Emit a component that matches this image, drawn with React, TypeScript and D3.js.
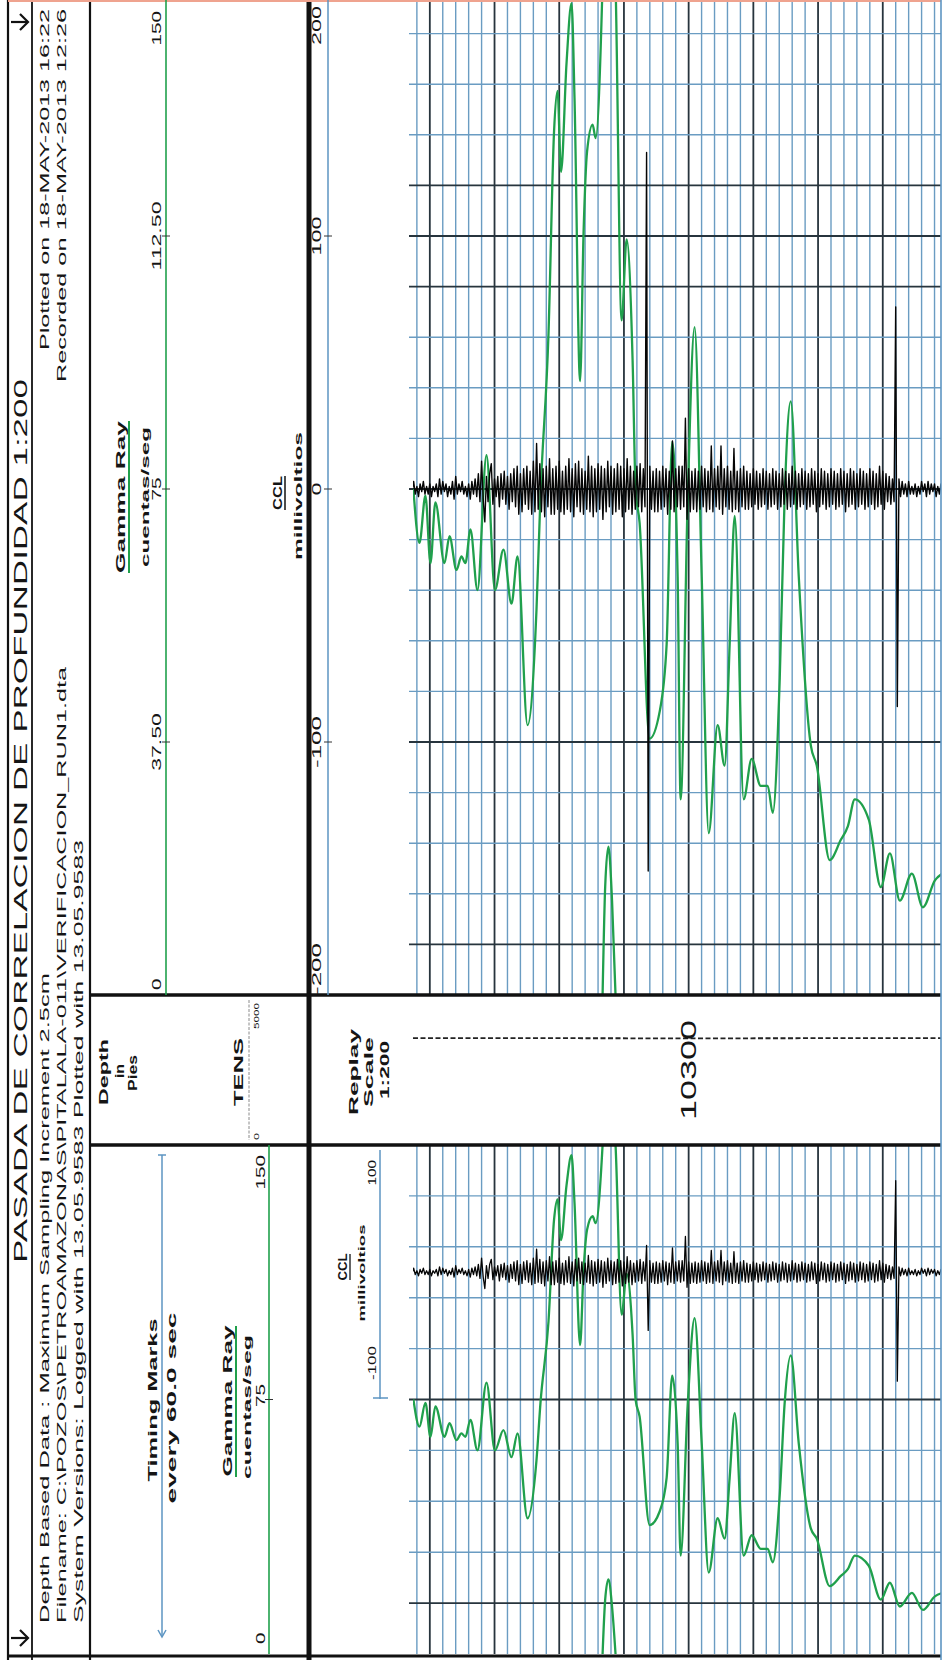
import React from 'react';
import * as d3 from 'd3';

// depth window (pies)
const depthTop = 10278.7;
const depthBottom = 10319.5;

// Gamma Ray, cuentas/seg
const grDepth = [
  10278.73, 10279.2, 10279.66, 10280.05, 10280.43, 10281.13, 10281.52, 10282.06, 10282.44, 10282.75,
  10283.14, 10283.68, 10284.38, 10285.03, 10285.69, 10286.31, 10286.78, 10287.55, 10288.24, 10288.55,
  10289.17, 10289.6, 10289.87, 10290.14, 10290.56, 10290.95, 10291.18, 10291.61, 10291.88, 10292.15,
  10292.58, 10292.81, 10293.35, 10293.55, 10293.8, 10294.08, 10294.35, 10294.82, 10295.21, 10295.67,
  10295.9, 10296.21, 10296.98, 10297.76, 10298.3, 10298.73, 10299.15, 10299.38, 10299.92, 10300.46,
  10301.01, 10301.55, 10302.24, 10302.78, 10303.17, 10303.56, 10304.25, 10304.87, 10305.57, 10306.11,
  10306.5, 10307.04, 10307.42, 10307.89, 10308.51, 10309.44, 10309.9, 10310.9, 10311.76, 10312.3,
  10312.84, 10313.92, 10314.85, 10315.55, 10316.32, 10317.25, 10318.1, 10319.03, 10319.6,
];
const grValue = [
  75, 67, 74, 64, 73, 64, 68, 63, 65, 64,
  69, 60, 80, 60, 66, 58, 65, 40, 57, 74,
  98, 128, 134, 122, 138, 147, 133, 91, 113, 125,
  129, 127, 150, 166, 172, 164, 150, 100, 112, 94,
  75, 70, 38, 42, 52, 82, 62, 29, 73, 99,
  62, 24, 40, 34, 52, 71, 29, 35, 31, 31,
  27, 47, 74, 88, 62, 37, 34, 20, 23, 25,
  29, 26, 16, 21, 14, 18, 13, 17, 18,
];

// CCL millivoltios, one reading every 0.125 ft from cclStart (8 per foot)
const cclStart = 10278.5;
const cclStep = 0.125;
const cclValue = [
  2, -1, 3, -2, 1, -3, 2, -1,
  3, -2, 1, -2, 2, -3, 1, -1,
  2, -3, 4, -2, 3, -1, 2, -3,
  1, -2, 3, -4, 5, -2, 2, -1,
  3, -2, 1, -3, 2, -4, 3, -2,
  4, -3, 6, -5, 11, -4, -13, 5,
  -5, 6, 10, -6, 4, -3, 5, -7,
  6, -4, 7, -6, 5, -8, 6, -5,
  8, -7, 9, -10, 6, -9, 8, -6,
  9, -8, 7, -10, 11, -9, 18, -8,
  10, -9, 8, -11, 9, -7, 12, -10,
  8, -10, 9, -8, 11, -9, 7, -10,
  9, -8, 12, -9, 8, -11, 10, -7,
  11, -9, 8, -10, 7, -8, 13, -9,
  9, -11, 8, -9, 10, -8, 9, -12,
  8, -9, 11, -7, 9, -10, 8, -9,
  10, -8, 9, -11, 8, -9, 12, -8,
  9, -10, 7, -8, 9, -7, 10, -9,
  8, -7, 21, -46, 9, -8, 7, -9,
  8, -9, 7, -8, 9, -7, 8, -10,
  7, -8, 19, -9, 8, -7, 9, -8,
  9, -7, 28, -12, 8, -9, 7, -8,
  8, -9, 7, -8, 9, -7, 8, -9,
  7, -8, 17, -9, 8, -7, 9, -8,
  17, -10, 8, -7, 9, -8, 7, -9,
  16, -8, 7, -9, 8, -7, 9, -8,
  7, -8, 6, -7, 8, -6, 7, -8,
  6, -7, 8, -6, 7, -8, 6, -7,
  8, -6, 7, -8, 6, -7, 8, -6,
  7, -8, 6, -7, 9, -6, 7, -8,
  6, -7, 8, -6, 7, -8, 6, -7,
  8, -6, 7, -9, 6, -7, 8, -6,
  7, -8, 6, -7, 8, -6, 7, -8,
  6, -7, 8, -6, 7, -9, 6, -7,
  8, -6, 7, -8, 6, -7, 8, -6,
  7, -8, 6, -7, 8, -6, 7, -8,
  6, -7, 9, -6, 7, -8, 6, -5,
  5, -6, 4, -5, 72, -86, 4, -3,
  3, -2, 2, -3, 3, -2, 1, -2,
  2, -3, 1, -2, 3, -1, 2, -3,
  3, -2, 2, -1, 2, -3, 1, -2,
  2, -2, 3, -1, 1,
];
// the main track shows this collar much larger
const cclUpperDepth = [10296.75, 10296.875];
const cclUpperValue = [133, -151];

// TENS, lbs
const tensDepth = [10278.7, 10290, 10300, 10310, 10319.5];
const tensValue = [3565, 3560, 3555, 3560, 3565];

const grTicks = [0, 37.5, 75, 112.5, 150];
const grTickLabels = ['0', '37.50', '75', '112.50', '150'];
const cclTicks = [-200, -100, 0, 100, 200];
const lowerGrTicks = [0, 75, 150];
const lowerCclTicks = [-100, 100];
const depthLabels = [10300];

const FONT = '"Liberation Sans", Arial, Helvetica, sans-serif';
const W = 944;
const H = 1660;
const L = 413;
const R = 941;

const GREEN = '#20a04c';
const GRID = '#6a9cc2';
const GRID_DARK = '#27343d';
const BLUE = '#5d95c2';

function VText({ x, y, len, size = 12, bold = false, anchor = 'middle', fill = '#151515', children }: any) {
  return (
    <text
      transform={`translate(${x},${y}) rotate(-90)`}
      textAnchor={anchor}
      dominantBaseline="central"
      fontFamily={FONT}
      fontSize={size}
      fontWeight={bold ? 'bold' : 'normal'}
      fill={fill}
      textLength={len}
      lengthAdjust="spacingAndGlyphs"
    >
      {children}
    </text>
  );
}

function Arrow({ y }: { y: number }) {
  return (
    <g stroke="#111" strokeWidth={2.2} fill="none">
      <line x1={11} x2={28} y1={y} y2={y} />
      <polyline points={`20,${y - 8} 28,${y} 20,${y + 8}`} />
    </g>
  );
}

export default function App() {
  const x = d3.scaleLinear().domain([depthTop, depthBottom]).range([L, R]);
  const yGrU = d3.scaleLinear().domain([0, 150]).range([995, -17]);
  const yCclU = d3.scaleLinear().domain([-200, 200]).range([995, -17]);
  const yGrL = d3.scaleLinear().domain([0, 150]).range([1654, 1145]);
  const yCclL = d3.scaleLinear().domain([-100, 100]).range([1399, 1145]);
  const yTens = d3.scaleLinear().domain([0, 5000]).range([1145, 995]);

  const gr = grDepth.map((d, i) => ({ d, v: grValue[i] }));
  const grWrap = gr.filter((p) => p.v >= 150).map((p) => ({ d: p.d, v: p.v - 150 }));
  const ccl = cclValue.map((v, i) => ({ d: cclStart + i * cclStep, v }));
  const cclU = ccl.map((p) => {
    const k = cclUpperDepth.indexOf(p.d);
    return k >= 0 ? { d: p.d, v: cclUpperValue[k] } : p;
  });
  const tens = tensDepth.map((d, i) => ({ d, v: tensValue[i] }));

  const grLine = (ys: any) =>
    d3.line<any>().x((p) => x(p.d)).y((p) => ys(p.v)).curve(d3.curveMonotoneX);
  const rawLine = (ys: any) => d3.line<any>().x((p) => x(p.d)).y((p) => ys(p.v));

  const gridDepths = d3.range(Math.ceil(depthTop), depthBottom, 1);
  const vStyle = (d: number) =>
    d % 5 === 0 ? { stroke: GRID_DARK, w: 1.8 } : { stroke: GRID, w: 1.4 };

  // 20 divisions on the main track, 10 on the lower one
  const upperRows = d3.range(1, 20);
  const lowerRows = d3.range(1, 10);
  const upperDark = [1, 5, 10, 14, 15, 16];
  const upperStyle = (k: number) =>
    upperDark.includes(k) ? { stroke: GRID_DARK, w: 1.8 } : { stroke: GRID, w: 1.4 };
  const lowerStyle = (k: number) =>
    k === 5 || k === 1 ? { stroke: GRID_DARK, w: 1.8 } : { stroke: GRID, w: 1.4 };

  return (
    <div style={{ position: 'absolute', left: 0, top: 0 }}>
      <svg width={W} height={H} style={{ display: 'block', background: '#fff' }}>
        <defs>
          <clipPath id="clipU">
            <rect x={L} y={-17} width={R - L} height={1012} />
          </clipPath>
          <clipPath id="clipL">
            <rect x={L} y={1145} width={R - L} height={509} />
          </clipPath>
        </defs>

        {/* grid */}
        {gridDepths.map((d) => {
          const s = vStyle(d);
          return (
            <g key={'v' + d}>
              <line x1={x(d)} x2={x(d)} y1={0} y2={995} stroke={s.stroke} strokeWidth={s.w} />
              <line x1={x(d)} x2={x(d)} y1={1145} y2={1654} stroke={s.stroke} strokeWidth={s.w} />
            </g>
          );
        })}
        {upperRows.map((k) => {
          const s = upperStyle(k);
          const y = yGrU(k * 7.5);
          return <line key={'hu' + k} x1={L - 4} x2={R} y1={y} y2={y} stroke={s.stroke} strokeWidth={s.w} />;
        })}
        {lowerRows.map((k) => {
          const s = lowerStyle(k);
          const y = yGrL(k * 15);
          return <line key={'hl' + k} x1={L - 4} x2={R} y1={y} y2={y} stroke={s.stroke} strokeWidth={s.w} />;
        })}

        {/* curves, main track */}
        <g clipPath="url(#clipU)" fill="none">
          <path d={grLine(yGrU)(gr) || ''} stroke={GREEN} strokeWidth={2.3} />
          <path d={grLine(yGrU)(grWrap) || ''} stroke={GREEN} strokeWidth={2.3} />
          <path d={rawLine(yCclU)(cclU) || ''} stroke="#050505" strokeWidth={1.4} strokeLinejoin="round" />
        </g>

        {/* curves, lower track */}
        <g clipPath="url(#clipL)" fill="none">
          <path d={grLine(yGrL)(gr) || ''} stroke={GREEN} strokeWidth={2.3} />
          <path d={grLine(yGrL)(grWrap) || ''} stroke={GREEN} strokeWidth={2.3} />
          <path d={rawLine(yCclL)(ccl) || ''} stroke="#050505" strokeWidth={1.3} strokeLinejoin="round" />
        </g>

        {/* depth track */}
        <path
          d={rawLine(yTens)(tens) || ''}
          fill="none"
          stroke="#222"
          strokeWidth={1.8}
          strokeDasharray="5 2.5"
        />
        {depthLabels.map((d) => (
          <VText key={d} x={x(d)} y={1070} len={100} size={22}>
            {String(d)}
          </VText>
        ))}
        <VText x={353} y={1072} len={86} size={13} bold>Replay</VText>
        <VText x={368} y={1072} len={70} size={13} bold>Scale</VText>
        <VText x={384} y={1070} len={58} size={13} bold>1:200</VText>

        {/* frame */}
        <g stroke="#111" fill="none">
          <line x1={8} x2={8} y1={0} y2={H} strokeWidth={2.2} />
          <line x1={32} x2={32} y1={0} y2={H} strokeWidth={1.8} />
          <line x1={90} x2={90} y1={0} y2={H} strokeWidth={2.2} />
          <line x1={309} x2={309} y1={0} y2={H} strokeWidth={5} />
          <line x1={90} x2={R} y1={995} y2={995} strokeWidth={3.5} />
          <line x1={90} x2={R} y1={1145} y2={1145} strokeWidth={3.5} />
          <line x1={8} x2={R} y1={1656} y2={1656} strokeWidth={3} />
        </g>
        <line x1={8} x2={R} y1={1} y2={1} stroke="#efa38f" strokeWidth={2} />
        <line x1={R} x2={R} y1={0} y2={H} stroke={BLUE} strokeWidth={1.6} />

        {/* title block */}
        <Arrow y={22} />
        <Arrow y={1638} />
        <VText x={20} y={821} len={884} size={19}>
          PASADA DE CORRELACION DE PROFUNDIDAD  1:200
        </VText>
        <VText x={45} y={1623} len={650} size={12} anchor="start">
          Depth Based Data : Maximum Sampling Increment  2.5cm
        </VText>
        <VText x={62} y={1623} len={956} size={12} anchor="start">
          Filename: C:\POZOS\PETROAMAZONAS\PITALALA-011\VERIFICACION_RUN1.dta
        </VText>
        <VText x={79} y={1623} len={783} size={12} anchor="start">
          System Versions:   Logged with  13.05.9583   Plotted with  13.05.9583
        </VText>
        <VText x={45} y={9} len={341} size={12} anchor="end">
          Plotted on 18-MAY-2013 16:22
        </VText>
        <VText x={62} y={9} len={373} size={12} anchor="end">
          Recorded on 18-MAY-2013 12:26
        </VText>

        {/* main track header */}
        <VText x={120} y={497} len={152} size={13} bold>Gamma Ray</VText>
        <line x1={129} x2={129} y1={421} y2={573} stroke={GREEN} strokeWidth={2} />
        <VText x={145} y={497} len={140} size={11} bold>cuentas/seg</VText>
        <line x1={166} x2={166} y1={0} y2={995} stroke={GREEN} strokeWidth={1.6} />
        {grTicks.map((t, i) => {
          const y = yGrU(t);
          const last = i === grTicks.length - 1;
          const first = i === 0;
          return (
            <g key={'gt' + t}>
              {!first && !last && <line x1={162} x2={170} y1={y} y2={y} stroke="#333" strokeWidth={1} />}
              <VText
                x={157}
                y={first ? 990 : last ? 11 : y}
                len={grTickLabels[i].length * 11.5}
                size={12}
                anchor={first ? 'start' : last ? 'end' : 'middle'}
              >
                {grTickLabels[i]}
              </VText>
            </g>
          );
        })}
        <VText x={277} y={493} len={34} size={13} bold>CCL</VText>
        <line x1={285} x2={285} y1={476} y2={510} stroke="#111" strokeWidth={1.5} />
        <VText x={298} y={496} len={128} size={11} bold>millivoltios</VText>
        <line x1={328} x2={328} y1={0} y2={995} stroke={BLUE} strokeWidth={1.5} />
        {cclTicks.map((t, i) => {
          const y = yCclU(t);
          const first = i === 0;
          const last = i === cclTicks.length - 1;
          const label = String(t);
          return (
            <g key={'ct' + t}>
              {!first && !last && <line x1={324} x2={332} y1={y} y2={y} stroke="#333" strokeWidth={1} />}
              <VText
                x={317}
                y={first ? 995 : last ? 6 : y}
                len={label.length * 13}
                size={12}
                anchor={first ? 'start' : last ? 'end' : 'middle'}
              >
                {label}
              </VText>
            </g>
          );
        })}

        {/* depth header */}
        <VText x={103} y={1072} len={66} size={13} bold>Depth</VText>
        <VText x={119} y={1071} len={14} size={13} bold>in</VText>
        <VText x={132} y={1073} len={36} size={13} bold>Pies</VText>
        <VText x={238} y={1072} len={68} size={13} bold>TENS</VText>
        <line x1={249} x2={249} y1={1000} y2={1140} stroke="#8a8a8a" strokeWidth={1} strokeDasharray="3 1.5" />
        <VText x={256} y={1140} len={7} size={8} anchor="start">0</VText>
        <VText x={256} y={1003} len={26} size={8} anchor="end">5000</VText>

        {/* lower track header */}
        <VText x={152} y={1400} len={163} size={13} bold>Timing Marks</VText>
        <line x1={162} x2={162} y1={1155} y2={1636} stroke={BLUE} strokeWidth={1.5} />
        <line x1={158} x2={166} y1={1155} y2={1155} stroke={BLUE} strokeWidth={1.5} />
        <polyline points="158,1630 162,1637 166,1630" fill="none" stroke={BLUE} strokeWidth={1.5} />
        <VText x={172} y={1408} len={191} size={12} bold>every 60.0 sec</VText>
        <VText x={227} y={1401} len={151} size={13} bold>Gamma Ray</VText>
        <line x1={236} x2={236} y1={1326} y2={1477} stroke={GREEN} strokeWidth={2} />
        <VText x={247} y={1407} len={144} size={11} bold>cuentas/seg</VText>
        <line x1={269} x2={269} y1={1145} y2={1654} stroke={GREEN} strokeWidth={1.6} />
        {lowerGrTicks.map((t, i) => {
          const y = yGrL(t);
          const first = i === 0;
          const last = i === lowerGrTicks.length - 1;
          const label = String(t);
          return (
            <g key={'lg' + t}>
              {!first && !last && <line x1={265} x2={273} y1={y} y2={y} stroke="#333" strokeWidth={1} />}
              <VText
                x={261}
                y={first ? 1644 : last ? 1155 : y - 4}
                len={label.length * 11.5}
                size={12}
                anchor={first ? 'start' : last ? 'end' : 'middle'}
              >
                {label}
              </VText>
            </g>
          );
        })}
        <VText x={342} y={1267} len={27} size={13} bold>CCL</VText>
        <line x1={350} x2={350} y1={1254} y2={1280} stroke="#111" strokeWidth={1.3} />
        <VText x={362} y={1273} len={97} size={9} bold>millivoltios</VText>
        <line x1={380} x2={380} y1={1150} y2={yCclL(-100)} stroke={BLUE} strokeWidth={1.5} />
        <line x1={373} x2={388} y1={yCclL(-100) - 1} y2={yCclL(-100) - 1} stroke={BLUE} strokeWidth={1.5} />
        {lowerCclTicks.map((t) => (
          <VText
            key={'lc' + t}
            x={372}
            y={t > 0 ? 1160 : 1380}
            len={String(t).length * 8.5}
            size={10}
            anchor={t > 0 ? 'end' : 'start'}
          >
            {String(t)}
          </VText>
        ))}
      </svg>
    </div>
  );
}
